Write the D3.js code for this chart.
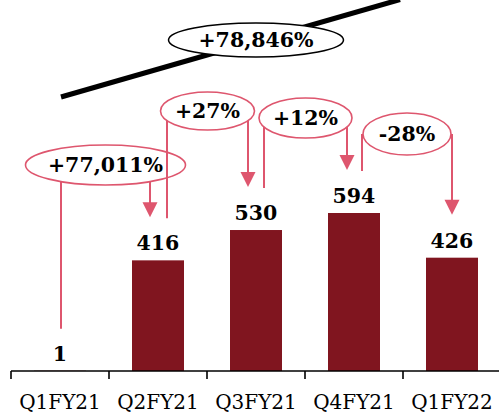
<!DOCTYPE html>
<html>
<head>
<meta charset="utf-8">
<script src="https://cdn.jsdelivr.net/npm/d3@7"></script>
<style>
  html, body { margin: 0; padding: 0; background: #fff; }
  svg { display: block; }
  text { font-family: "DejaVu Serif", "Liberation Serif", serif; }
</style>
</head>
<body>
<svg id="chart" width="499" height="417"></svg>
<script>
// Quarterly values
const categories = ["Q1FY21", "Q2FY21", "Q3FY21", "Q4FY21", "Q1FY22"];
const values = [1, 416, 530, 594, 426];
// Quarter-on-quarter growth labels (between consecutive quarters)
const growthLabels = ["+77,011%", "+27%", "+12%", "-28%"];
// Overall growth, first to last quarter
const overallLabel = "+78,846%";

const W = 499, H = 417;
const barColor = "#80151f";
const pink = "#de566e";
const ink = "#000";

const svg = d3.select("#chart");

const x = d3.scaleBand().domain(categories).range([11, 501]).paddingInner(0).paddingOuter(0);
const barW = 52;
const y = d3.scaleLinear().domain([0, 594]).range([371, 213]);
const cx = c => x(c) + x.bandwidth() / 2;

// Bars
svg.append("g").selectAll("rect")
  .data(categories)
  .join("rect")
  .attr("x", c => cx(c) - barW / 2)
  .attr("y", (c, i) => y(values[i]))
  .attr("width", barW)
  .attr("height", (c, i) => y(0) - y(values[i]))
  .attr("fill", barColor);

// Value labels
svg.append("g").selectAll("text")
  .data(categories)
  .join("text")
  .attr("x", c => cx(c))
  .attr("y", (c, i) => y(values[i]) - 10)
  .attr("text-anchor", "middle")
  .attr("font-size", 20.5)
  .attr("font-weight", "bold")
  .attr("fill", ink)
  .text((c, i) => values[i]);

// Axis: baseline, ticks at band edges, labels centred under bars
const axis = svg.append("g");
axis.append("line")
  .attr("x1", x.range()[0]).attr("x2", W)
  .attr("y1", y(0)).attr("y2", y(0))
  .attr("stroke", "#000").attr("stroke-width", 1.6);
axis.selectAll("line.tick")
  .data(categories)
  .join("line")
  .attr("class", "tick")
  .attr("x1", c => x(c)).attr("x2", c => x(c))
  .attr("y1", y(0)).attr("y2", y(0) + 8)
  .attr("stroke", "#000").attr("stroke-width", 1.6);
axis.selectAll("text")
  .data(categories)
  .join("text")
  .attr("x", c => cx(c))
  .attr("y", 409)
  .attr("text-anchor", "middle")
  .attr("font-size", 20)
  .attr("fill", ink)
  .text(c => c);

// Overall growth line with its label
const first = categories[0];
svg.append("line")
  .attr("x1", cx(first) + 1).attr("y1", 97)
  .attr("x2", 400).attr("y2", -0.5)
  .attr("stroke", "#000").attr("stroke-width", 5);
const og = svg.append("g").attr("transform", `translate(${cx(categories[2])},40)`);
og.append("ellipse").attr("rx", 87.5).attr("ry", 17)
  .attr("fill", "#fff").attr("stroke", "#000").attr("stroke-width", 1.5);
og.append("text").attr("text-anchor", "middle").attr("dy", "0.35em")
  .attr("font-size", 20.5).attr("font-weight", "bold").attr("fill", ink)
  .text(overallLabel);

// Quarter-on-quarter connectors: line up from one bar, arrow down to the next
const layout = [
  { srcOff: 1, dstOff: -8, cy: 165, rx: 80, ry: 20 },
  { srcOff: 9, dstOff: -8, cy: 111, rx: 47, ry: 19 },
  { srcOff: 8, dstOff: -7, cy: 118, rx: 46.5, ry: 20 },
  { srcOff: 8, dstOff: 0, cy: 134, rx: 44, ry: 21 }
];
const head = 15;

growthLabels.forEach((label, i) => {
  const L = layout[i];
  const sx = cx(categories[i]) + L.srcOff;
  const dx = cx(categories[i + 1]) + L.dstOff;
  const sy = y(values[i]) - 42;
  const tip = y(values[i + 1]) - 43;
  const ox = (sx + dx) / 2;
  const g = svg.append("g");
  g.append("line")
    .attr("x1", sx).attr("x2", sx).attr("y1", L.cy).attr("y2", sy)
    .attr("stroke", pink).attr("stroke-width", 2);
  g.append("line")
    .attr("x1", dx).attr("x2", dx).attr("y1", L.cy).attr("y2", tip - head + 1)
    .attr("stroke", pink).attr("stroke-width", 2);
  g.append("path")
    .attr("d", `M${dx - head / 2},${tip - head}L${dx + head / 2},${tip - head}L${dx},${tip}Z`)
    .attr("fill", pink);
  g.append("ellipse")
    .attr("cx", ox).attr("cy", L.cy).attr("rx", L.rx).attr("ry", L.ry)
    .attr("fill", "#fff").attr("stroke", pink).attr("stroke-width", 1.6);
  g.append("text")
    .attr("x", ox).attr("y", L.cy).attr("dy", "0.35em")
    .attr("text-anchor", "middle")
    .attr("font-size", 20.5).attr("font-weight", "bold").attr("fill", ink)
    .text(label);
});
</script>
</body>
</html>
